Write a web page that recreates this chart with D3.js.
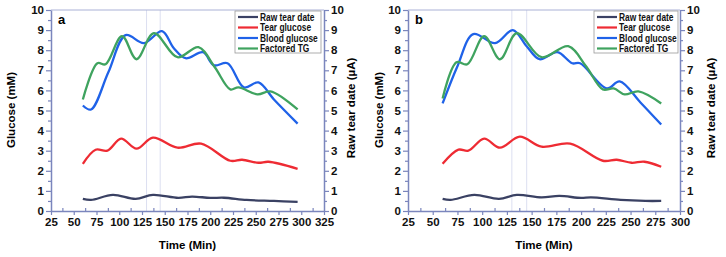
<!DOCTYPE html>
<html>
<head>
<meta charset="utf-8">
<script src="https://cdn.jsdelivr.net/npm/d3@7"></script>
<style>
  body { margin: 0; background: #fff; }
  svg text { font-family: "Liberation Sans", Arial, sans-serif; }
</style>
</head>
<body>
<div class="chart"></div>
<script>
const WIDTH = 726;
const HEIGHT = 257;

// panel a
var rawTimeA = [60, 69, 93, 118, 137, 165, 180, 200, 215, 240, 270, 296];
var rawA = [0.6, 0.55, 0.8, 0.6, 0.8, 0.65, 0.72, 0.65, 0.66, 0.55, 0.5, 0.45];
var tearTimeA = [60, 74, 87, 102, 119, 137, 164, 190, 222, 235, 253, 264, 296];
var tearA = [2.35, 3.05, 3.0, 3.6, 3.1, 3.65, 3.15, 3.35, 2.5, 2.55, 2.4, 2.45, 2.1];
var bloodTimeA = [60, 69, 88, 107, 127, 147, 160, 173, 192, 204, 219, 237, 253, 270, 296];
var bloodA = [5.25, 5.05, 6.9, 8.75, 8.35, 8.95, 8.1, 7.6, 7.9, 7.25, 7.35, 6.15, 6.4, 5.55, 4.35];
var factTimeA = [60, 76, 85, 103, 119, 138, 164, 187, 205, 222, 231, 252, 266, 296];
var factA = [5.55, 7.35, 7.3, 8.7, 7.55, 8.85, 7.65, 8.15, 7.15, 6.05, 6.15, 5.8, 5.95, 5.05];

// panel b
var rawTimeB = [60, 68, 92, 117, 135, 160, 178, 200, 210, 240, 265, 281];
var rawB = [0.6, 0.55, 0.8, 0.6, 0.8, 0.68, 0.75, 0.65, 0.68, 0.55, 0.5, 0.5];
var tearTimeB = [60, 76, 86, 102, 118, 138, 160, 189, 222, 236, 251, 264, 281];
var tearB = [2.35, 3.05, 3.0, 3.6, 3.15, 3.7, 3.2, 3.35, 2.5, 2.55, 2.4, 2.45, 2.2];
var bloodTimeB = [60, 75, 91, 113, 131, 145, 158, 176, 191, 199, 226, 239, 260, 281];
var bloodB = [5.35, 7.2, 8.8, 8.35, 9.0, 8.2, 7.55, 7.9, 7.35, 7.35, 6.1, 6.45, 5.4, 4.3];
var factTimeB = [60, 74, 85, 102, 118, 135, 160, 187, 205, 222, 233, 244, 258, 281];
var factB = [5.6, 7.4, 7.3, 8.7, 7.55, 8.85, 7.65, 8.2, 7.2, 6.05, 6.1, 5.8, 5.95, 5.35];

var seriesNames = ["Raw tear date", "Tear glucose", "Blood glucose", "Factored TG"];
var seriesColors = ["#3a4163", "#ee2b33", "#1f62e8", "#3fa35f"];
var guideTimes = [130, 145];
var yTicks = [0, 1, 2, 3, 4, 5, 6, 7, 8, 9, 10];
var xTicksA = [25, 50, 75, 100, 125, 150, 175, 200, 225, 250, 275, 300, 325];
var xTicksB = [25, 50, 75, 100, 125, 150, 175, 200, 225, 250, 275, 300];

const AXIS = "#7b86bd";

var translate = function (x, y) {
    return "translate(" + x + "," + y + ")";
};

var zip = function (ts, vs) {
    return ts.map(function (t, i) { return {x: t, y: vs[i]}; });
};

var svg = d3.select('.chart').append('svg')
    .attr('width', WIDTH)
    .attr('height', HEIGHT);

var drawPanel = function (p) {
    var x = d3.scaleLinear().domain(p.xDomain).range([p.left, p.right]);
    var y = d3.scaleLinear().domain([0, 10]).range([211, 10]);
    var g = svg.append('g');

    // guides
    g.selectAll('line.guide').data(guideTimes).enter().append('line')
        .attr('x1', x).attr('x2', x)
        .attr('y1', y(10)).attr('y2', y(0))
        .attr('stroke', '#dcdff1').attr('stroke-width', 1);

    // top border
    g.append('line')
        .attr('x1', p.left).attr('x2', p.right)
        .attr('y1', y(10)).attr('y2', y(10))
        .attr('stroke', '#aab1d6').attr('stroke-width', 1);

    var minorY = d3.range(0.5, 10, 1);
    var minorX = p.xTicks.slice(0, -1).map(function (t) { return t + 12.5; });

    var styleAxis = function (sel) {
        sel.select('.domain').attr('stroke', AXIS).attr('stroke-width', 1.5);
        sel.selectAll('.tick line').attr('stroke', AXIS).attr('stroke-width', 1.2);
        sel.selectAll('.tick text').attr('fill', '#111').attr('font-size', 11.5)
            .attr('font-weight', 'bold').attr('font-family', '"Liberation Sans", Arial, sans-serif');
    };
    var styleMinor = function (sel) {
        sel.select('.domain').remove();
        sel.selectAll('.tick line').attr('stroke', AXIS).attr('stroke-width', 1.2);
    };

    g.append('g').attr('transform', translate(p.left, 0))
        .call(d3.axisLeft(y).tickValues(yTicks).tickSize(5).tickSizeOuter(0).tickPadding(2))
        .call(styleAxis);
    g.append('g').attr('transform', translate(p.left, 0))
        .call(d3.axisLeft(y).tickValues(minorY).tickSize(3).tickFormat(''))
        .call(styleMinor);

    g.append('g').attr('transform', translate(p.right, 0))
        .call(d3.axisRight(y).tickValues(yTicks).tickSize(5).tickSizeOuter(0).tickPadding(2))
        .call(styleAxis);
    g.append('g').attr('transform', translate(p.right, 0))
        .call(d3.axisRight(y).tickValues(minorY).tickSize(3).tickFormat(''))
        .call(styleMinor);

    g.append('g').attr('transform', translate(0, y(0)))
        .call(d3.axisBottom(x).tickValues(p.xTicks).tickSize(4).tickSizeOuter(0).tickPadding(3))
        .call(styleAxis);
    g.append('g').attr('transform', translate(0, y(0)))
        .call(d3.axisBottom(x).tickValues(minorX).tickSize(-3).tickFormat(''))
        .call(styleMinor);

    // lines
    var line = d3.line()
        .x(function (q) { return x(q.x); })
        .y(function (q) { return y(q.y); })
        .curve(d3.curveCatmullRom.alpha(0.5));

    p.series.forEach(function (s, i) {
        g.append('path')
            .attr('d', line(s))
            .attr('fill', 'none')
            .attr('stroke', seriesColors[i])
            .attr('stroke-width', 2.3);
    });

    // labels
    g.append('text').attr('x', p.left + 7).attr('y', 24)
        .attr('font-size', 13).attr('font-weight', 'bold').text(p.letter);

    g.append('text')
        .attr('transform', translate(p.leftLabelX, 110) + ' rotate(-90)')
        .attr('text-anchor', 'middle').attr('font-size', 11.5).attr('font-weight', 'bold')
        .text('Glucose (mM)');
    g.append('text')
        .attr('transform', translate(p.rightLabelX, 108) + ' rotate(-90)')
        .attr('text-anchor', 'middle').attr('font-size', 11.5).attr('font-weight', 'bold')
        .text('Raw tear date (\u00b5A)');
    g.append('text')
        .attr('x', (p.left + p.right) / 2).attr('y', 249)
        .attr('text-anchor', 'middle').attr('font-size', 11.5).attr('font-weight', 'bold')
        .text('Time (Min)');

    // legend
    var lg = g.append('g').attr('transform', translate(p.legendX, 11));
    lg.append('rect').attr('x', 0).attr('y', 0)
        .attr('width', p.legendW).attr('height', 42)
        .attr('fill', '#fff').attr('stroke', '#9a9a9a').attr('stroke-width', 0.8);
    seriesNames.forEach(function (name, i) {
        var yy = 6 + i * 10.5;
        lg.append('line').attr('x1', 3).attr('x2', 23)
            .attr('y1', yy).attr('y2', yy)
            .attr('stroke', seriesColors[i]).attr('stroke-width', 2.2);
        lg.append('text')
            .attr('transform', translate(25, yy + 3.5) + ' scale(0.84,1)')
            .attr('font-size', 10).attr('font-weight', 'bold').attr('fill', '#111')
            .text(name);
    });
};

drawPanel({
    letter: 'a', left: 51, right: 324, xDomain: [25, 325], xTicks: xTicksA,
    leftLabelX: 15, rightLabelX: 355, legendX: 235, legendW: 86,
    series: [zip(rawTimeA, rawA), zip(tearTimeA, tearA), zip(bloodTimeA, bloodA), zip(factTimeA, factA)]
});

drawPanel({
    letter: 'b', left: 408, right: 680, xDomain: [25, 300], xTicks: xTicksB,
    leftLabelX: 383, rightLabelX: 715, legendX: 594, legendW: 84,
    series: [zip(rawTimeB, rawB), zip(tearTimeB, tearB), zip(bloodTimeB, bloodB), zip(factTimeB, factB)]
});
</script>
</body>
</html>
